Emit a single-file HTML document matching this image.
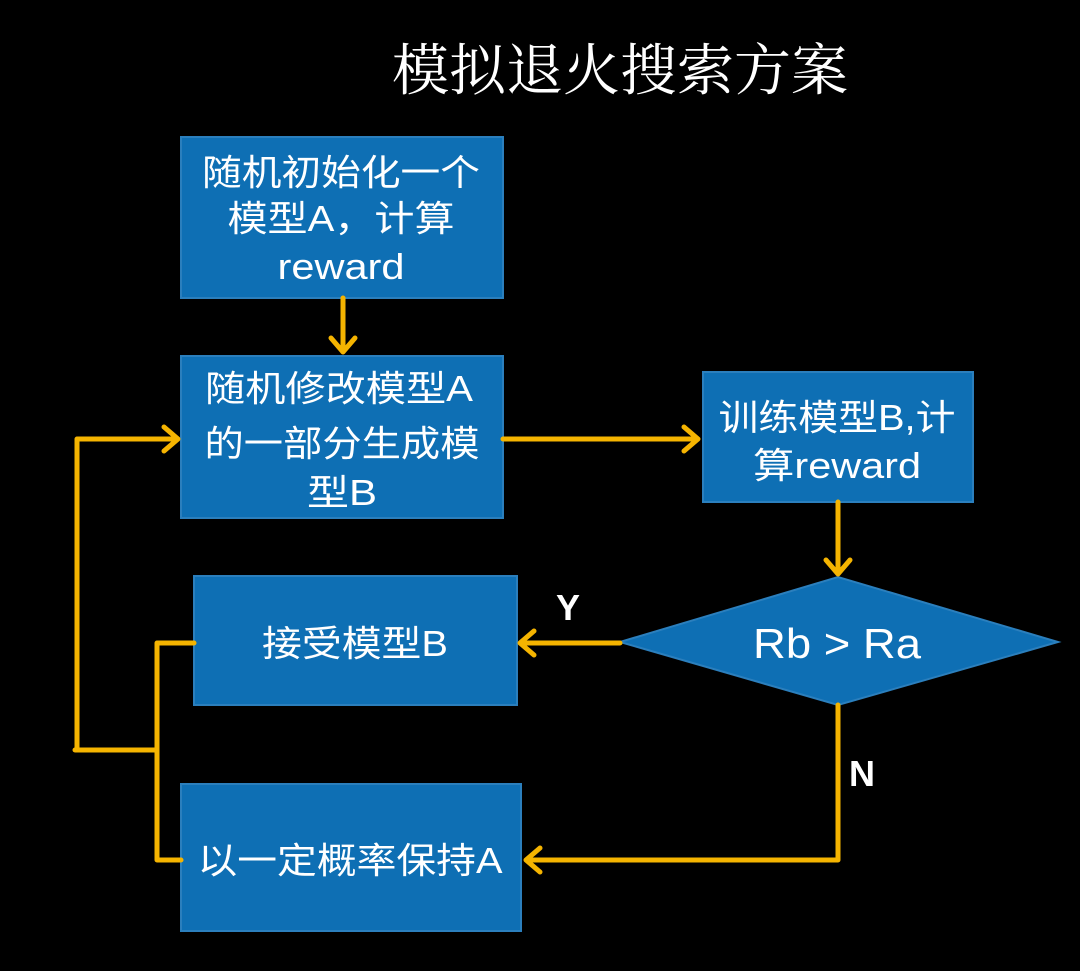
<!DOCTYPE html>
<html><head><meta charset="utf-8"><style>
html,body{margin:0;padding:0;background:#000;}
svg{display:block;}
text{font-family:"Liberation Sans","Noto Sans CJK SC",sans-serif;fill:#fff;}
</style></head><body>
<svg width="1080" height="971" viewBox="0 0 1080 971">
<rect width="1080" height="971" fill="#000"/>
<text x="620" y="90" font-size="56" text-anchor="middle" textLength="456" lengthAdjust="spacingAndGlyphs" style="font-family:'Noto Serif CJK SC',serif">模拟退火搜索方案</text>
<g fill="#0e6fb4" stroke="#2b7fbd" stroke-width="2">
<rect x="181" y="137" width="322" height="161"/>
<rect x="181" y="356" width="322" height="162"/>
<rect x="703" y="372" width="270" height="130"/>
<rect x="194" y="576" width="323" height="129"/>
<rect x="181" y="784" width="340" height="147"/>
<polygon points="620,642 838,577 1058,642 838,705"/>
</g>
<g stroke="#f5b400" stroke-width="5" fill="none" stroke-linecap="round" stroke-linejoin="round">
<path d="M343 298 V352 M331 338 L343 352 L355 338"/>
<path d="M503 439 H698 M684 427 L698 439 L684 451"/>
<path d="M838 502 V574 M826 560 L838 574 L850 560"/>
<path d="M620 643 H520 M534 631 L520 643 L534 655"/>
<path d="M838 705 V860 H526 M540 848 L526 860 L540 872"/>
<path d="M194 643 H157 V860 H181"/>
<path d="M157 750 H75"/>
<path d="M77 750 V439 H178 M164 427 L178 439 L164 451"/>
</g>
<g font-size="36" text-anchor="middle">
<text x="341" y="185" textLength="278" lengthAdjust="spacingAndGlyphs">随机初始化一个</text>
<text x="341" y="231" textLength="227" lengthAdjust="spacingAndGlyphs">模型A，计算</text>
<text x="341" y="279" textLength="127" lengthAdjust="spacingAndGlyphs">reward</text>
<text x="339" y="401" textLength="268" lengthAdjust="spacingAndGlyphs">随机修改模型A</text>
<text x="342" y="456" textLength="275" lengthAdjust="spacingAndGlyphs">的一部分生成模</text>
<text x="342" y="505" textLength="70" lengthAdjust="spacingAndGlyphs">型B</text>
<text x="837" y="430" textLength="237" lengthAdjust="spacingAndGlyphs">训练模型B,计</text>
<text x="837" y="478" textLength="168" lengthAdjust="spacingAndGlyphs">算reward</text>
<text x="355" y="656" textLength="186" lengthAdjust="spacingAndGlyphs">接受模型B</text>
<text x="350" y="873" textLength="305" lengthAdjust="spacingAndGlyphs">以一定概率保持A</text>
<text x="837" y="658" font-size="42" textLength="168" lengthAdjust="spacingAndGlyphs">Rb &gt; Ra</text>
</g>
<text x="568" y="620" font-size="36" font-weight="bold" text-anchor="middle">Y</text>
<text x="862" y="786" font-size="36" font-weight="bold" text-anchor="middle">N</text>
</svg>
</body></html>
